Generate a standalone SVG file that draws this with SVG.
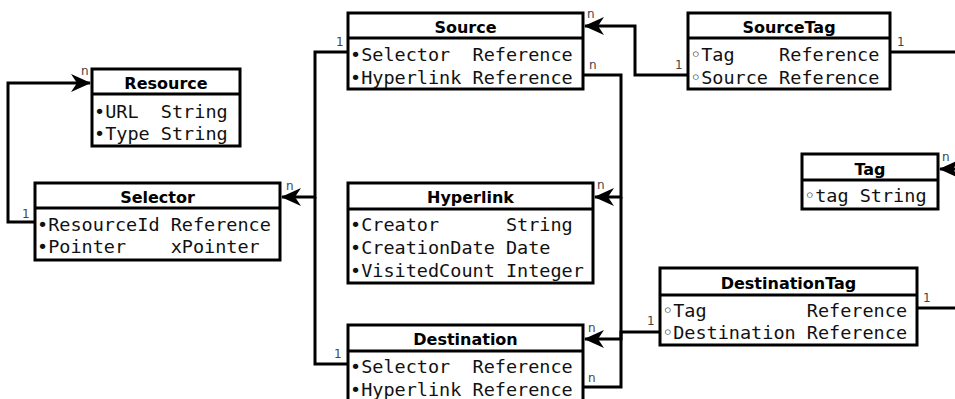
<svg xmlns="http://www.w3.org/2000/svg" width="955" height="399" viewBox="0 0 955 399">
<style>
.box{fill:#fff;stroke:#000;stroke-width:3}
.sep{stroke:#000;stroke-width:3}
.hd{font-family:"DejaVu Sans",sans-serif;font-weight:bold;font-size:16px;fill:#000;text-anchor:middle}
.row{font-family:"DejaVu Sans Mono",monospace;font-size:18.5px;fill:#111;white-space:pre}
.lbl{font-family:"DejaVu Sans",sans-serif;font-size:12px;fill:#444}
.cn{fill:none;stroke:#000;stroke-width:3}
</style>
<defs>
<marker id="arr" viewBox="0 0 20 20" refX="19" refY="10" markerWidth="20" markerHeight="20" markerUnits="userSpaceOnUse" orient="auto">
<path d="M0,1 L20,10 L0,19 L6,10 Z" fill="#000"/>
</marker>
</defs>
<g id="connectors">
<path class="cn" d="M35,222 H8 V83 H90" marker-end="url(#arr)"/>
<path class="cn" d="M348,52 H315 V197 H282" marker-end="url(#arr)"/>
<path class="cn" d="M348,364 H315 V197"/>
<path class="cn" d="M583,75 H621 V197 H595" marker-end="url(#arr)"/>
<path class="cn" d="M583,387 H621 V197"/>
<path class="cn" d="M688,75 H635 V26 H585" marker-end="url(#arr)"/>
<path class="cn" d="M890,52 H955"/>
<path class="cn" d="M958,169 H940" marker-end="url(#arr)"/>
<path class="cn" d="M660,332 H621 V339 H585" marker-end="url(#arr)"/>
<path class="cn" d="M917,308 H958"/>
<text class="lbl" x="81" y="75">n</text>
<text class="lbl" x="22" y="218">1</text>
<text class="lbl" x="286" y="190">n</text>
<text class="lbl" x="336" y="46">1</text>
<text class="lbl" x="587" y="18">n</text>
<text class="lbl" x="589" y="69">n</text>
<text class="lbl" x="597" y="189">n</text>
<text class="lbl" x="588" y="332">n</text>
<text class="lbl" x="588" y="382">n</text>
<text class="lbl" x="334" y="358">1</text>
<text class="lbl" x="675" y="69">1</text>
<text class="lbl" x="897" y="46">1</text>
<text class="lbl" x="942" y="161">n</text>
<text class="lbl" x="647" y="325">1</text>
<text class="lbl" x="923" y="302">1</text>
</g>
<g id="Resource">
<rect class="box" x="92" y="69" width="148" height="77"/>
<line class="sep" x1="92" y1="94" x2="240" y2="94"/>
<text class="hd" x="166" y="89">Resource</text>
<text class="row" x="94" y="118">•URL  String</text>
<text class="row" x="94" y="140">•Type String</text>
</g>
<g id="Selector">
<rect class="box" x="35" y="183" width="245" height="77"/>
<line class="sep" x1="35" y1="208" x2="280" y2="208"/>
<text class="hd" x="157.5" y="203">Selector</text>
<text class="row" x="37" y="231">•ResourceId Reference</text>
<text class="row" x="37" y="253">•Pointer    xPointer</text>
</g>
<g id="Source">
<rect class="box" x="348" y="13" width="235" height="76"/>
<line class="sep" x1="348" y1="38" x2="583" y2="38"/>
<text class="hd" x="465.5" y="33">Source</text>
<text class="row" x="350" y="61">•Selector  Reference</text>
<text class="row" x="350" y="84">•Hyperlink Reference</text>
</g>
<g id="Hyperlink">
<rect class="box" x="348" y="183" width="245" height="100"/>
<line class="sep" x1="348" y1="209" x2="593" y2="209"/>
<text class="hd" x="470.5" y="203">Hyperlink</text>
<text class="row" x="350" y="231">•Creator      String</text>
<text class="row" x="350" y="254">•CreationDate Date</text>
<text class="row" x="350" y="277">•VisitedCount Integer</text>
</g>
<g id="Destination">
<rect class="box" x="348" y="325" width="235" height="78"/>
<line class="sep" x1="348" y1="351" x2="583" y2="351"/>
<text class="hd" x="465.5" y="345">Destination</text>
<text class="row" x="350" y="373">•Selector  Reference</text>
<text class="row" x="350" y="396">•Hyperlink Reference</text>
</g>
<g id="SourceTag">
<rect class="box" x="688" y="13" width="202" height="76"/>
<line class="sep" x1="688" y1="38" x2="890" y2="38"/>
<text class="hd" x="789" y="33">SourceTag</text>
<text class="row" x="690" y="61">◦Tag    Reference</text>
<text class="row" x="690" y="84">◦Source Reference</text>
</g>
<g id="Tag">
<rect class="box" x="802" y="154" width="136" height="55"/>
<line class="sep" x1="802" y1="180" x2="938" y2="180"/>
<text class="hd" x="870" y="175">Tag</text>
<text class="row" x="804" y="202">◦tag String</text>
</g>
<g id="DestinationTag">
<rect class="box" x="660" y="268" width="257" height="77"/>
<line class="sep" x1="660" y1="295" x2="917" y2="295"/>
<text class="hd" x="788.5" y="289">DestinationTag</text>
<text class="row" x="662" y="317">◦Tag         Reference</text>
<text class="row" x="662" y="339">◦Destination Reference</text>
</g>
</svg>
